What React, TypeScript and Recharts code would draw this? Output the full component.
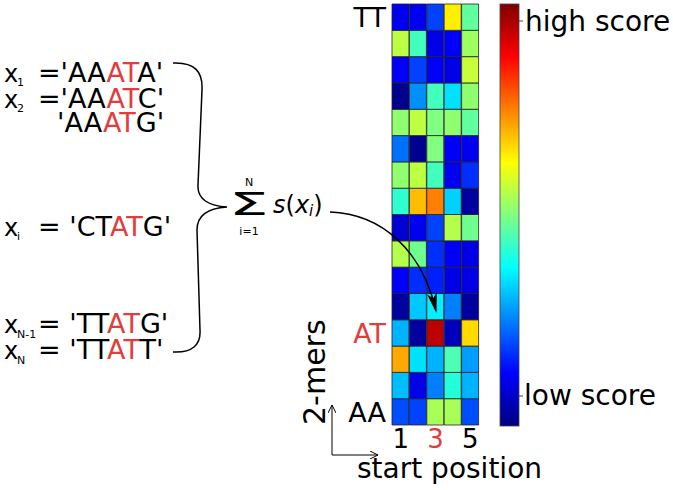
import { Bar, BarChart, Cell, XAxis, YAxis } from "recharts";

// 2-mers from bottom (AA) to top (TT)
const kmers = ["AA", "AC", "AG", "AT", "CA", "CC", "CG", "CT", "GA", "GC", "GG", "GT", "TA", "TC", "TG", "TT"];
const positions = ["1", "2", "3", "4", "5"];
const shownPositions = ["1", "3", "5"];
const shownKmers = ["AA", "AT", "TT"];
const highlighted = ["3", "AT"];

// scores[kmer][position], 0 = low score, 1 = high score
const scores = [
  [0.2, 0.19, 0.54, 0.54, 0.2],
  [0.31, 0.1, 0.25, 0.41, 0.3],
  [0.71, 0.345, 0.3, 0.45, 0.28],
  [0.3, 0.03, 0.94, 0.06, 0.66],
  [0.03, 0.32, 0.36, 0.25, 0.03],
  [0.12, 0.17, 0.155, 0.1, 0.1],
  [0.55, 0.485, 0.17, 0.12, 0.1],
  [0.08, 0.11, 0.19, 0.55, 0.485],
  [0.42, 0.69, 0.75, 0.33, 0.03],
  [0.515, 0.56, 0.44, 0.11, 0.17],
  [0.235, 0.015, 0.5, 0.12, 0.11],
  [0.515, 0.56, 0.5, 0.515, 0.47],
  [0.015, 0.265, 0.44, 0.345, 0.515],
  [0.12, 0.19, 0.12, 0.1, 0.57],
  [0.56, 0.44, 0.1, 0.12, 0.53],
  [0.11, 0.11, 0.19, 0.64, 0.47],
];

const RED = "#e23c3c";
const FONT = "'DejaVu Sans', sans-serif";

function jet(v: number) {
  const c = (t: number) => Math.round(255 * Math.max(0, Math.min(1, t)));
  const r = c(1.5 - Math.abs(4 * v - 3));
  const g = c(1.5 - Math.abs(4 * v - 2));
  const b = c(1.5 - Math.abs(4 * v - 1));
  return `rgb(${r},${g},${b})`;
}

// one stacked segment per 2-mer, colour carries the score
const rows = positions.map((pos) => {
  const row: Record<string, string | number> = { pos };
  kmers.forEach((k) => (row[k] = 1));
  return row;
});

function PosTick({ x, y, payload }: any) {
  if (!shownPositions.includes(payload.value)) return null;
  return (
    <text x={x} y={y + 23} textAnchor="middle" fontSize={26} fontFamily={FONT}
      fill={highlighted.includes(payload.value) ? RED : "#000"}>
      {payload.value}
    </text>
  );
}

function KmerTick({ x, y, payload }: any) {
  const label = kmers[Math.floor(payload.value)];
  return (
    <text x={x - 6} y={y + 10} textAnchor="end" fontSize={27} fontFamily={FONT}
      fill={highlighted.includes(label) ? RED : "#000"}>
      {label}
    </text>
  );
}

function Seq({ y, sub, subDy, eq, parts }: { y: number; sub: string; subDy: number; eq: string; parts: [string, boolean][] }) {
  return (
    <g fontFamily={FONT}>
      <text x={4} y={y} fontSize={24}>x</text>
      <text x={17} y={y + subDy} fontSize={11}>{sub}</text>
      <text x={38} y={y} fontSize={27}>
        {eq}
        {parts.map(([s, red], i) => (
          <tspan key={i} fill={red ? RED : "#000"}>{s}</tspan>
        ))}
      </text>
    </g>
  );
}

function Overlay() {
  const stops = [0, 0.125, 0.25, 0.375, 0.5, 0.625, 0.75, 0.875, 1];
  return (
    <svg width={673} height={490} style={{ position: "absolute", left: 0, top: 0, pointerEvents: "none" }}>
      <defs>
        <linearGradient id="jet" x1="0" y1="1" x2="0" y2="0">
          {stops.map((s) => (
            <stop key={s} offset={s} stopColor={jet(s)} />
          ))}
        </linearGradient>
        <marker id="head" viewBox="0 0 20 10" refX={18} refY={5} markerWidth={20} markerHeight={10} markerUnits="userSpaceOnUse" orient="auto">
          <path d="M0,0 L20,5 L0,10 L5,5 Z" fill="#000" />
        </marker>
        <marker id="open" viewBox="0 0 8 8" refX={8} refY={4} markerWidth={8} markerHeight={8} markerUnits="userSpaceOnUse" orient="auto">
          <path d="M0,0 L8,4 L0,8" fill="none" stroke="#000" strokeWidth={1} />
        </marker>
      </defs>

      <Seq y={82} sub="1" subDy={4} eq="='" parts={[["AA", false], ["AT", true], ["A'", false]]} />
      <Seq y={108} sub="2" subDy={4} eq="='" parts={[["AA", false], ["AT", true], ["C'", false]]} />
      <text x={57} y={132} fontSize={27} fontFamily={FONT}>
        'AA<tspan fill={RED}>AT</tspan>G'
      </text>
      <Seq y={236} sub="i" subDy={4} eq="= '" parts={[["CT", false], ["AT", true], ["G'", false]]} />
      <Seq y={333} sub="N-1" subDy={5} eq="= '" parts={[["TT", false], ["AT", true], ["G'", false]]} />
      <Seq y={359} sub="N" subDy={5} eq="= '" parts={[["TT", false], ["AT", true], ["T'", false]]} />

      <path d="M173,63 C195,62 203,72 202,90 L198,185 C197,200 210,206 227,207 C210,208 197,214 197,230 L200,330 C201,345 192,353 173,352"
        fill="none" stroke="#000" strokeWidth={1.5} />

      <g fontFamily={FONT}>
        <text x={249} y={186} fontSize={11} textAnchor="middle">N</text>
        <g transform="translate(229,215) scale(1.95,1)">
          <text x={0} y={0} fontSize={32} fontFamily="'DejaVu Sans'">Σ</text>
        </g>
        <text x={249} y={235} fontSize={11} textAnchor="middle">i=1</text>
        <text x={273} y={213} fontSize={24}>
          <tspan fontStyle="italic">s</tspan>(<tspan fontStyle="italic">x</tspan>
          <tspan fontStyle="italic" fontSize={15} dy={3}>i</tspan>
          <tspan dy={-3}>)</tspan>
        </text>
      </g>

      <path d="M330,212 C382,214 422,250 436,311" fill="none" stroke="#000" strokeWidth={1.5} markerEnd="url(#head)" />

      <text transform="translate(325,425) rotate(-90)" fontSize={30} fontFamily={FONT}>2-mers</text>
      <path d="M332,455 L332,405" stroke="#000" strokeWidth={1} markerEnd="url(#open)" />
      <path d="M332,455 L378,455" stroke="#000" strokeWidth={1} markerEnd="url(#open)" />
      <text x={357} y={478} fontSize={28} fontFamily={FONT}>start position</text>

      <rect x={500} y={4} width={19} height={422} fill="url(#jet)" stroke="#444" strokeWidth={0.8} />
      <path d="M519,21 L523,21 M519,396 L523,396" stroke="#444" strokeWidth={1} />
      <text x={525} y={31} fontSize={28} fontFamily={FONT}>high score</text>
      <text x={524} y={405} fontSize={28} fontFamily={FONT}>low score</text>
    </svg>
  );
}

export default function App() {
  return (
    <div style={{ position: "absolute", left: 0, top: 0, width: 673, height: 490, background: "#fff" }}>
      <BarChart width={673} height={490} data={rows} barCategoryGap={0}
        margin={{ top: 4, right: 194, left: 342, bottom: 35 }}>
        <XAxis dataKey="pos" height={30} interval={0} axisLine={false} tickLine={false}
          tickSize={0} tickMargin={0} tick={<PosTick />} />
        <YAxis type="number" domain={[0, 16]} width={50} axisLine={false} tickLine={false}
          tickSize={0} tickMargin={0} ticks={shownKmers.map((k) => kmers.indexOf(k) + 0.5)}
          tick={<KmerTick />} />
        {kmers.map((k, ki) => (
          <Bar key={k} dataKey={k} stackId="s" isAnimationActive={false} stroke="#222" strokeWidth={0.8}>
            {positions.map((p, pi) => (
              <Cell key={p} fill={jet(scores[ki][pi])} />
            ))}
          </Bar>
        ))}
      </BarChart>
      <Overlay />
    </div>
  );
}
